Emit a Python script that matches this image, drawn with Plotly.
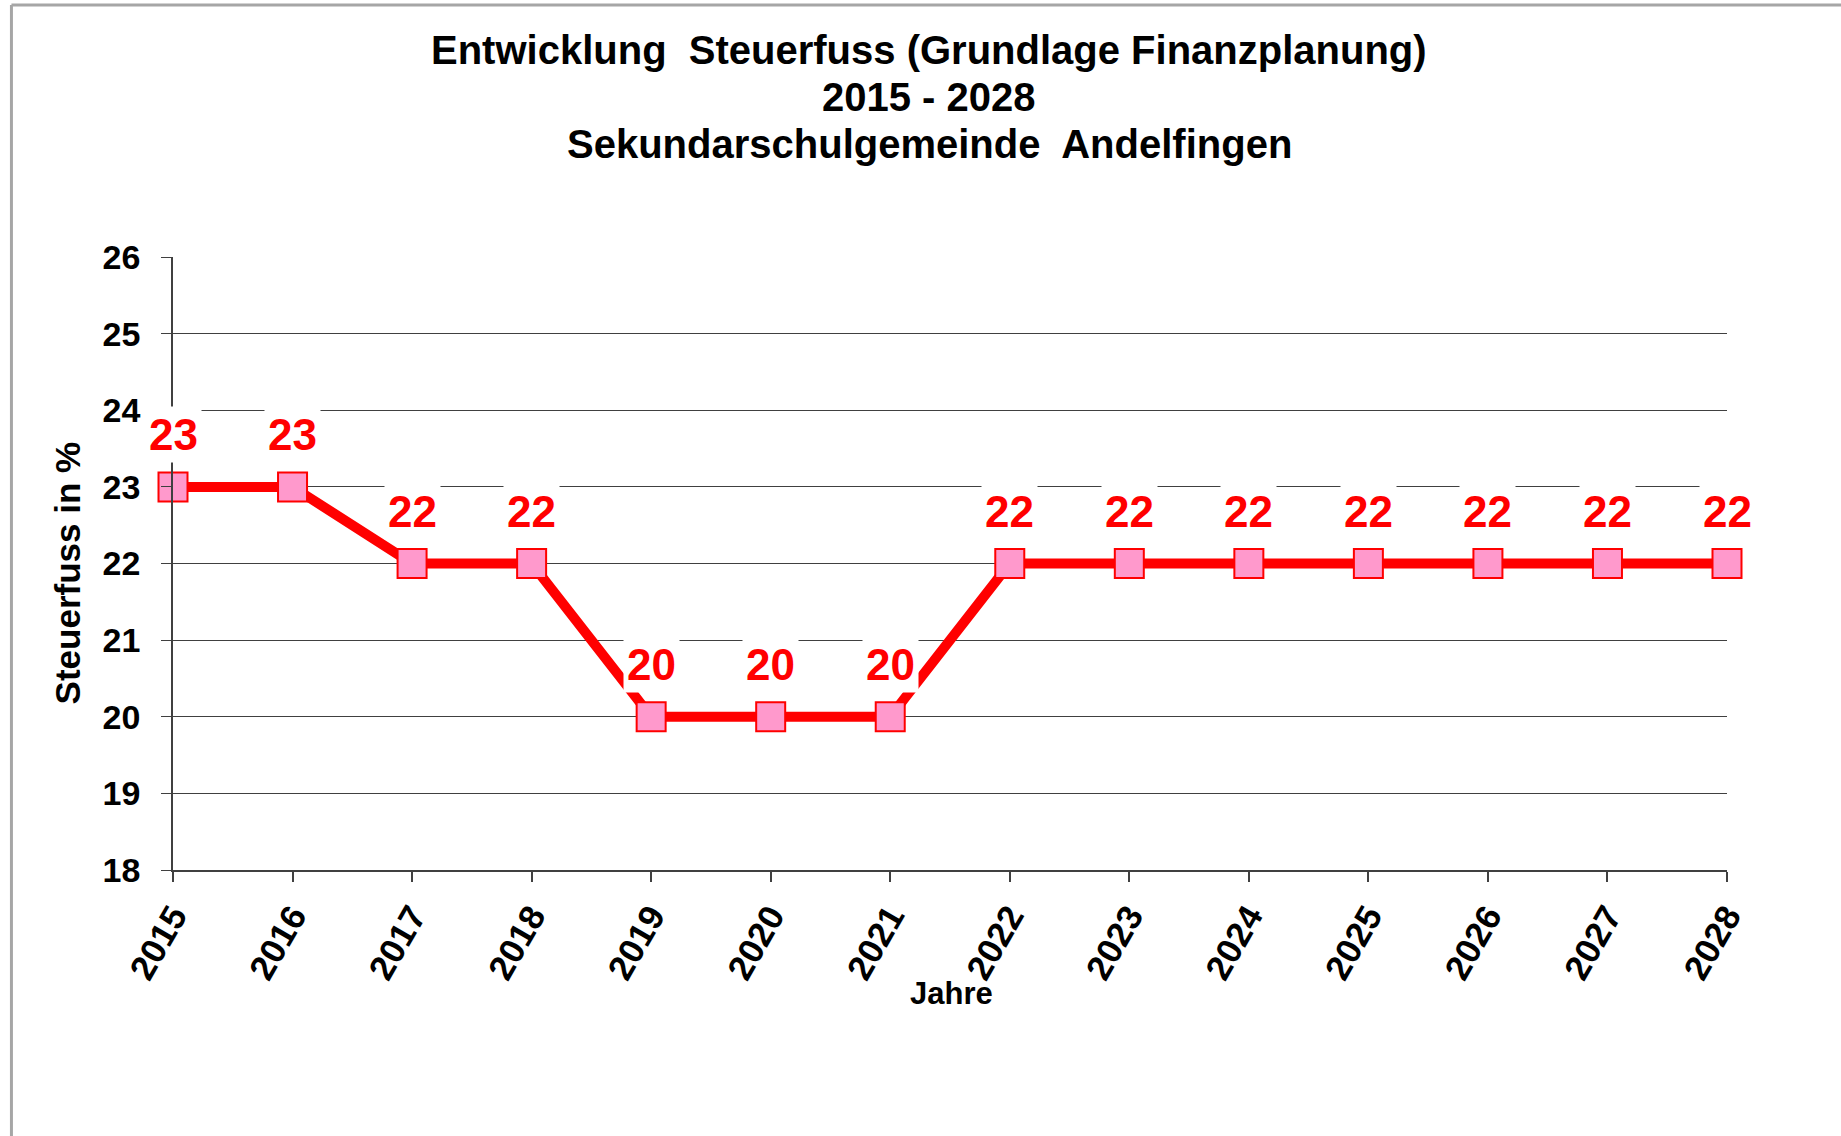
import plotly.graph_objects as go

years = [2015, 2016, 2017, 2018, 2019, 2020, 2021, 2022, 2023, 2024, 2025, 2026, 2027, 2028]
steuerfuss = [23, 23, 22, 22, 20, 20, 20, 22, 22, 22, 22, 22, 22, 22]
title_lines = ["Entwicklung  Steuerfuss (Grundlage Finanzplanung)", "2015 - 2028", "Sekundarschulgemeinde  Andelfingen"]
y_ticks = [18, 19, 20, 21, 22, 23, 24, 25, 26]

W, H = 1841, 1136
L, R, T, B = 172.6, 1727.0, 257.0, 870.0
pw, ph = R - L, B - T

def px_x(p):
    return (p - L) / pw

def px_y(p):
    return (B - p) / ph

FONT = "Liberation Sans, Arial, sans-serif"

fig = go.Figure()
fig.add_trace(go.Scatter(
    x=years, y=steuerfuss, mode="lines+markers",
    line=dict(color="#FF0000", width=10),
    marker=dict(symbol="square", size=29, color="#FF99CC",
                line=dict(color="#FF0000", width=2)),
    cliponaxis=False, showlegend=False, hoverinfo="x+y",
))

annotations = []
for x, v in zip(years, steuerfuss):
    annotations.append(dict(
        x=x, y=v, xref="x", yref="y", text=str(v), showarrow=False,
        yshift=52, font=dict(family=FONT, size=44, color="#FF0000", weight="bold"),
        bgcolor="white", borderpad=3,
    ))

for i, (line, py) in enumerate(zip(title_lines, [50, 97, 144])):
    annotations.append(dict(
        x=px_x(929), y=px_y(py), xref="paper", yref="paper", text=line,
        showarrow=False, xanchor="center", yanchor="middle",
        font=dict(family=FONT, size=40, color="black", weight="bold"),
    ))

annotations.append(dict(
    x=px_x(67), y=px_y(573), xref="paper", yref="paper", text="Steuerfuss in %",
    textangle=-90, showarrow=False, xanchor="center", yanchor="middle",
    font=dict(family=FONT, size=35, color="black", weight="bold"),
))
annotations.append(dict(
    x=px_x(951), y=px_y(993), xref="paper", yref="paper", text="Jahre",
    showarrow=False, xanchor="center", yanchor="middle",
    font=dict(family=FONT, size=31, color="black", weight="bold"),
))

shapes = [
    dict(type="line", xref="paper", yref="paper", x0=px_x(11), x1=px_x(1860),
         y0=px_y(5), y1=px_y(5), line=dict(color="#A6A6A6", width=3), layer="below"),
    dict(type="line", xref="paper", yref="paper", x0=px_x(11), x1=px_x(11),
         y0=px_y(5), y1=px_y(1160), line=dict(color="#A6A6A6", width=3), layer="below"),
]

fig.update_layout(
    width=W, height=H,
    margin=dict(l=L, r=W - R, t=T, b=H - B, pad=0),
    paper_bgcolor="white", plot_bgcolor="white",
    font=dict(family=FONT, color="black"),
    annotations=annotations, shapes=shapes,
    xaxis=dict(
        range=[years[0], years[-1]], tickmode="array", tickvals=years,
        ticktext=[str(y) for y in years], tickangle=-60,
        tickfont=dict(family=FONT, size=35, color="black", weight="bold"),
        showgrid=False, zeroline=False, showline=True, linecolor="#404040", linewidth=1.5,
        ticks="outside", ticklen=10, tickcolor="#404040", tickwidth=1.5,
    ),
    yaxis=dict(
        range=[18, 26], tickmode="array", tickvals=y_ticks,
        tickfont=dict(family=FONT, size=34, color="black", weight="bold"),
        showgrid=True, gridcolor="#404040", gridwidth=1.4, zeroline=False,
        showline=True, linecolor="#404040", linewidth=1.5,
        ticks="outside", ticklen=10, tickcolor="#404040", tickwidth=1.4,
        ticklabelstandoff=14,
    ),
)

fig.write_html("out.html", config={"displayModeBar": False},
               post_script="document.body.style.margin='0px';document.body.style.overflow='hidden';")
